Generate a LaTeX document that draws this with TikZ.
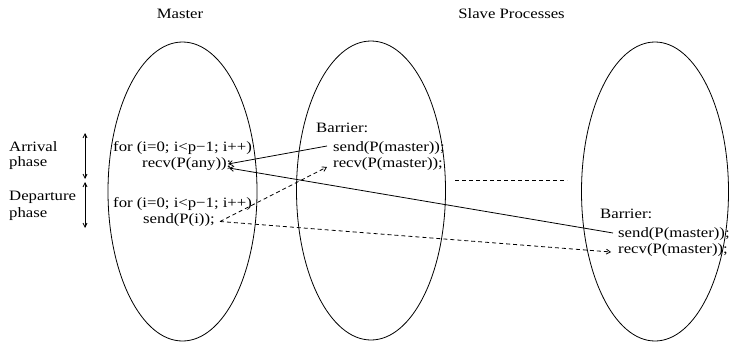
\documentclass[tikz,border=0pt]{standalone}
\usepackage{fontspec}
\setmainfont[FakeStretch=1.17]{Liberation Serif}
\usetikzlibrary{arrows.meta,shapes.geometric}
\begin{document}
\begin{tikzpicture}[x=1pt,y=-1pt,
  txt/.style={anchor=base west, inner sep=0pt, font=\fontsize{14.3}{16}\selectfont},
  proc/.style={draw, ellipse, inner sep=0pt, line width=0.8pt},
  msg/.style={line width=0.8pt, -{Straight Barb[length=4pt,width=5pt]}},
  async/.style={msg, dash pattern=on 4pt off 3pt},
  span/.style={line width=0.8pt, {Straight Barb[length=4pt,width=4pt]}-{Straight Barb[length=4pt,width=4pt]}}]
\useasboundingbox (0,0) rectangle (730,342);

% process bodies
\node[proc, minimum width=149pt, minimum height=299pt] (master) at (182.5,191.5) {};
\node[proc, minimum width=149pt, minimum height=299pt] (slaveA) at (371,190.5) {};
\node[proc, minimum width=147pt, minimum height=299pt] (slaveB) at (655,191.5) {};

% headings
\node[txt, anchor=base] (tmaster) at (180,19) {Master};
\node[txt, anchor=base] (tslaves) at (511.5,19) {Slave Processes};

% phase labels and their extents
\node[txt] (arr1) at (9,151) {Arrival};
\node[txt] (arr2) at (9,166.5) {phase};
\node[txt] (dep1) at (9,200.5) {Departure};
\node[txt] (dep2) at (9,217) {phase};
\coordinate (ar1) at (85,133);
\coordinate (ar2) at (85,179);
\coordinate (dp1) at (85,182);
\coordinate (dp2) at (85,228);
\draw[span] (ar1) -- (ar2);
\draw[span] (dp1) -- (dp2);

% master code
\node[txt] (mfor1) at (113,151) {for (i=0; i<p−1; i++)};
\node[txt] (mrecv) at (142,167) {recv(P(any));};
\node[txt] (mfor2) at (113,207) {for (i=0; i<p−1; i++)};
\node[txt] (msend) at (143,223) {send(P(i));};

% first slave
\node[txt] (abar) at (316,132) {Barrier:};
\node[txt] (asend) at (333,151.5) {send(P(master));};
\node[txt] (arecv) at (333,167.5) {recv(P(master));};

% last slave
\node[txt] (bbar) at (600,218) {Barrier:};
\node[txt] (bsend) at (618,237) {send(P(master));};
\node[txt] (brecv) at (618,253) {recv(P(master));};

% elided slaves
\coordinate (dotsl) at (455,180.5);
\coordinate (dotsr) at (567,180.5);
\draw[line width=0.8pt, dash pattern=on 4pt off 3pt] (dotsl) -- (dotsr);

% message endpoints
\coordinate (asendout) at (327,146);
\coordinate (bsendout) at (613,233);
\coordinate (anyin1) at (228,164);
\coordinate (anyin2) at (229,168);
\coordinate (iout) at (220,221.5);
\coordinate (arecvin) at (327,167);
\coordinate (brecvin) at (611,252);

% arrival: slaves report to the master
\draw[msg] (asendout) -- (anyin1);
\draw[msg] (bsendout) -- (anyin2);
% departure: master releases each slave
\draw[async] (iout) -- (arecvin);
\draw[async] (iout) -- (brecvin);
\end{tikzpicture}
\end{document}
